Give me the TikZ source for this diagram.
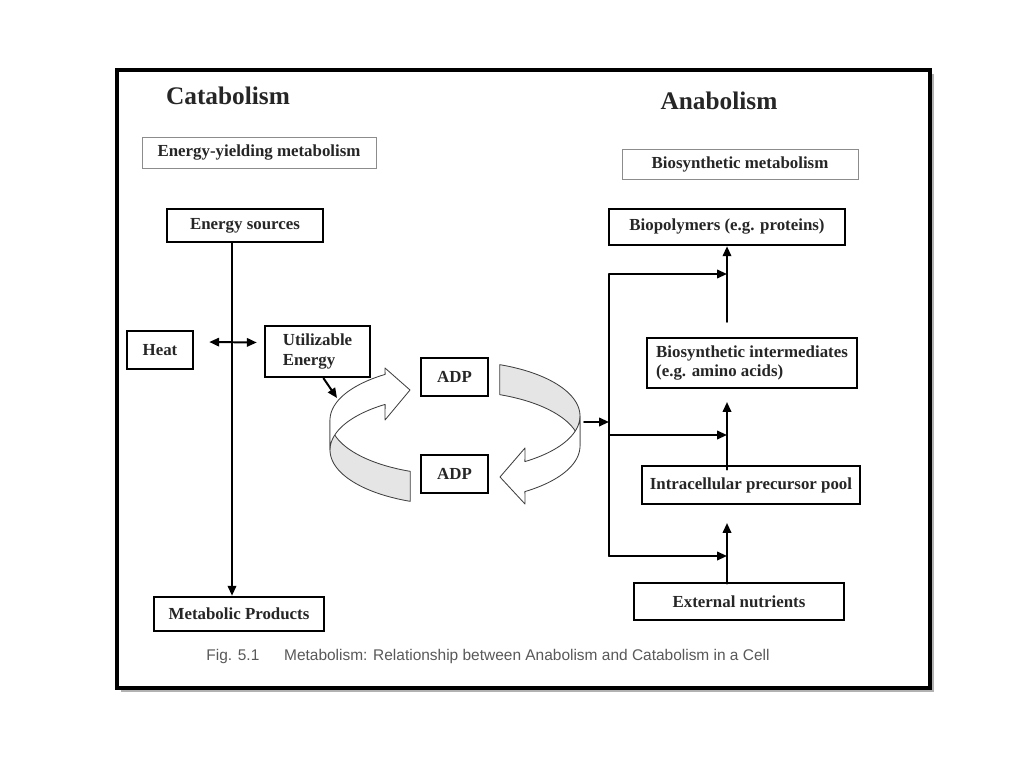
\documentclass[tikz,border=0pt]{standalone}
\usepackage{fontspec}
\setmainfont{Liberation Serif}
\newfontfamily\capfont{Liberation Sans}
\usetikzlibrary{arrows.meta}
\def\pxu{0.025cm}
\tikzset{
  box/.style={draw,line width=1.8pt,inner sep=2pt,text=black!85,font=\fontsize{12}{14}\selectfont\bfseries},
  headbox/.style={box,draw=black!45,line width=0.6pt},
  title/.style={text=black!85,font=\fontsize{18}{20}\selectfont\bfseries},
  link/.style={line width=1.4pt,->},
  ribbon/.style={draw=black!75,line width=0.6pt,line join=round},
}
\begin{document}
\begin{tikzpicture}[x=\pxu,y=-\pxu,line cap=round,>={Triangle[length=7pt,width=6pt]}]
\useasboundingbox (0,0) rectangle (1024,768);
\fill[black!30] (121,74) rectangle (934,692);
\draw[fill=white,line width=2.6pt] (117,70) rectangle (930,688);
\node[title] (cata) at (228,96) {Catabolism};
\node[title] (ana) at (719,101) {Anabolism};
\node[headbox,minimum width=234*\pxu,minimum height=31*\pxu] (yield) at (259,152.5) {Energy-yielding metabolism};
\node[headbox,minimum width=236*\pxu,minimum height=30*\pxu] (biosyn) at (740,164) {Biosynthetic metabolism};
\node[box,minimum width=156*\pxu,minimum height=33*\pxu] (sources) at (245,225.5) {Energy sources};
\node[box,minimum width=66*\pxu,minimum height=38*\pxu] (heat) at (160,350) {Heat};
\node[box,minimum width=105*\pxu,minimum height=51*\pxu,align=left] (util) at (317.5,351.5) {Utilizable\\Energy};
\node[box,minimum width=170*\pxu,minimum height=34*\pxu] (prod) at (239,614) {Metabolic Products};
\node[box,minimum width=67*\pxu,minimum height=38*\pxu] (adpA) at (454.5,377) {ADP};
\node[box,minimum width=67*\pxu,minimum height=38*\pxu] (adpB) at (454.5,474) {ADP};
\node[box,minimum width=236*\pxu,minimum height=36*\pxu] (polymers) at (727,227) {Biopolymers (e.g. proteins)};
\node[box,minimum width=210*\pxu,minimum height=50*\pxu,align=left] (inter) at (752,363) {Biosynthetic intermediates\\(e.g. amino acids)};
\node[box,minimum width=218*\pxu,minimum height=38*\pxu] (pool) at (751,485) {Intracellular precursor pool};
\node[box,minimum width=210*\pxu,minimum height=37*\pxu] (nutr) at (739,601.5) {External nutrients};
\node[text=black!65,font=\capfont\fontsize{11}{13}\selectfont] (cap) at (488,656) {Fig. 5.1\hspace{1.6em}Metabolism: Relationship between Anabolism and Catabolism in a Cell};
% left: energy-yielding side
\coordinate (trunk) at (232,0);
\draw[link] (sources.south -| trunk) -- (prod.north -| trunk);
\draw[link,<->] ([shift={(15,-8)}]heat.east) -- ([shift={(-7,-9)}]util.west);
\coordinate (loopin) at (337,398);
\draw[link] ([xshift=6*\pxu]util.south) -- (loopin);
% ADP cycle
\filldraw[ribbon,fill=black!10] plot[domain=111:180,samples=30] ({455+125*cos(\x)},{420+55*sin(\x)})
  -- plot[domain=180:111,samples=30] ({455+125*cos(\x)},{450+55*sin(\x)}) -- cycle;
\filldraw[ribbon,fill=white] plot[domain=180:236,samples=30] ({455+125*cos(\x)},{420+55*sin(\x)})
  -- (385,368) -- (410,390) -- (385,420)
  -- plot[domain=236:180,samples=30] ({455+125*cos(\x)},{450+55*sin(\x)}) -- cycle;
\filldraw[ribbon,fill=black!10] plot[domain=291:360,samples=30] ({455+125*cos(\x)},{416+55*sin(\x)})
  -- plot[domain=360:291,samples=30] ({455+125*cos(\x)},{446+55*sin(\x)}) -- cycle;
\filldraw[ribbon,fill=white] plot[domain=0:56,samples=30] ({455+125*cos(\x)},{416+55*sin(\x)})
  -- (525,448) -- (500,477) -- (525,504)
  -- plot[domain=56:0,samples=30] ({455+125*cos(\x)},{446+55*sin(\x)}) -- cycle;
% right: biosynthetic side
\coordinate (feed) at (584,422);
\coordinate (busT) at (609,274);
\coordinate (busM) at (609,435);
\coordinate (busB) at (609,556);
\coordinate (s1) at (727,322);
\coordinate (s2) at (727,402);
\coordinate (s3) at (727,523);
\draw[line width=1.4pt] (busT) -- (busB);
\draw[link] (feed) -- (feed -| busT);
\draw[link] (busT) -- (busT -| s1);
\draw[link] (busM) -- (busM -| s2);
\draw[link] (busB) -- (busB -| s3);
\draw[link] (s1) -- (polymers.south -| s1);
\draw[link] ([yshift=-5*\pxu]pool.north -| s2) -- (s2);
\draw[link] ([yshift=-2*\pxu]nutr.north -| s3) -- (s3);
\end{tikzpicture}
\end{document}
